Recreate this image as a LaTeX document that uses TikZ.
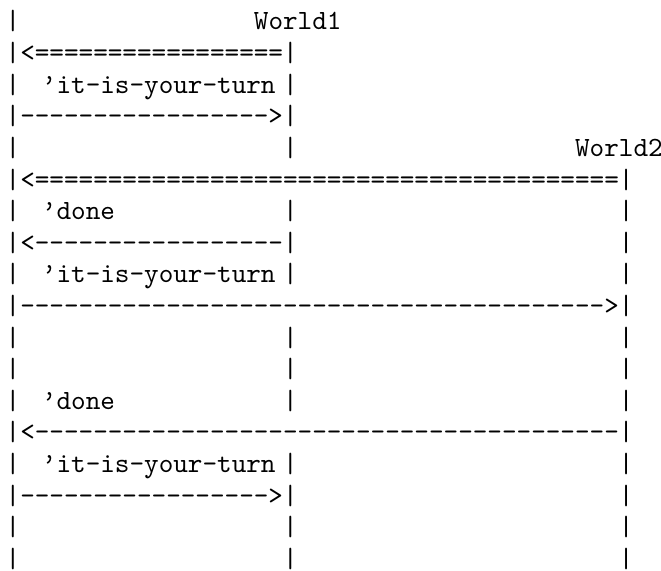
\documentclass[tikz,border=0pt]{standalone}
\ExplSyntaxOn
\NewDocumentCommand\Rep{mm}{\prg_replicate:nn{#1}{#2\kern0pt}}
\ExplSyntaxOff
\newcommand\asc{\ttfamily\fontsize{10pt}{10pt}\selectfont}
\newcommand\cx[1]{5.7+14.6*#1}
\newcommand\ry[1]{30+31.6*(#1-1)}
\begin{document}
\begin{tikzpicture}[x=0.35959pt,y=-0.35959pt,
  txt/.style={anchor=base west,inner sep=0pt,outer sep=0pt,font=\asc}]
\useasboundingbox (0,0) rectangle (661,570);
% row 1
\node[txt] (r1a) at ({\cx{0}},{\ry{1}}) {|};
\node[txt] (w1) at ({\cx{17}},{\ry{1}}) {World1};
% row 2
\node[txt] (r2a) at ({\cx{0}},{\ry{2}}) {|<\Rep{17}{=}|};
% row 3
\node[txt] (r3a) at ({\cx{0}},{\ry{3}}) {|};
\node[txt] (m3) at (42,{\ry{3}}) {’it-is-your-turn};
\node[txt] (r3c) at ({\cx{19}},{\ry{3}}) {|};
% row 4
\node[txt] (r4a) at ({\cx{0}},{\ry{4}}) {|\Rep{17}{-}>|};
% row 5
\node[txt] (r5a) at ({\cx{0}},{\ry{5}}) {|};
\node[txt] (r5b) at ({\cx{19}},{\ry{5}}) {|};
\node[txt] (w2) at ({\cx{39}},{\ry{5}}) {World2};
% row 6
\node[txt] (r6a) at ({\cx{0}},{\ry{6}}) {|<\Rep{40}{=}|};
% row 7
\node[txt] (m7) at (42,{\ry{7}}) {’done};
% row 8
\node[txt] (r8a) at ({\cx{0}},{\ry{8}}) {|<\Rep{17}{-}|};
\node[txt] (r8c) at ({\cx{42}},{\ry{8}}) {|};
% row 9
\node[txt] (m9) at (42,{\ry{9}}) {’it-is-your-turn};
% row 10
\node[txt] (r10a) at ({\cx{0}},{\ry{10}}) {|\Rep{40}{-}>|};
% row 13
\node[txt] (m13) at (42,{\ry{13}}) {’done};
% row 14
\node[txt] (r14a) at ({\cx{0}},{\ry{14}}) {|<\Rep{40}{-}|};
% row 15
\node[txt] (m15) at (42,{\ry{15}}) {’it-is-your-turn};
% row 16
\node[txt] (r16a) at ({\cx{0}},{\ry{16}}) {|\Rep{17}{-}>|};
\node[txt] (r16c) at ({\cx{42}},{\ry{16}}) {|};
% plain bar rows with three lifelines
\foreach \r in {7,9,11,12,13,15,17,18}{
  \node[txt] (b\r-0) at ({\cx{0}},{\ry{\r}}) {|};
  \node[txt] (b\r-19) at ({\cx{19}},{\ry{\r}}) {|};
  \node[txt] (b\r-42) at ({\cx{42}},{\ry{\r}}) {|};
}
\end{tikzpicture}
\end{document}
